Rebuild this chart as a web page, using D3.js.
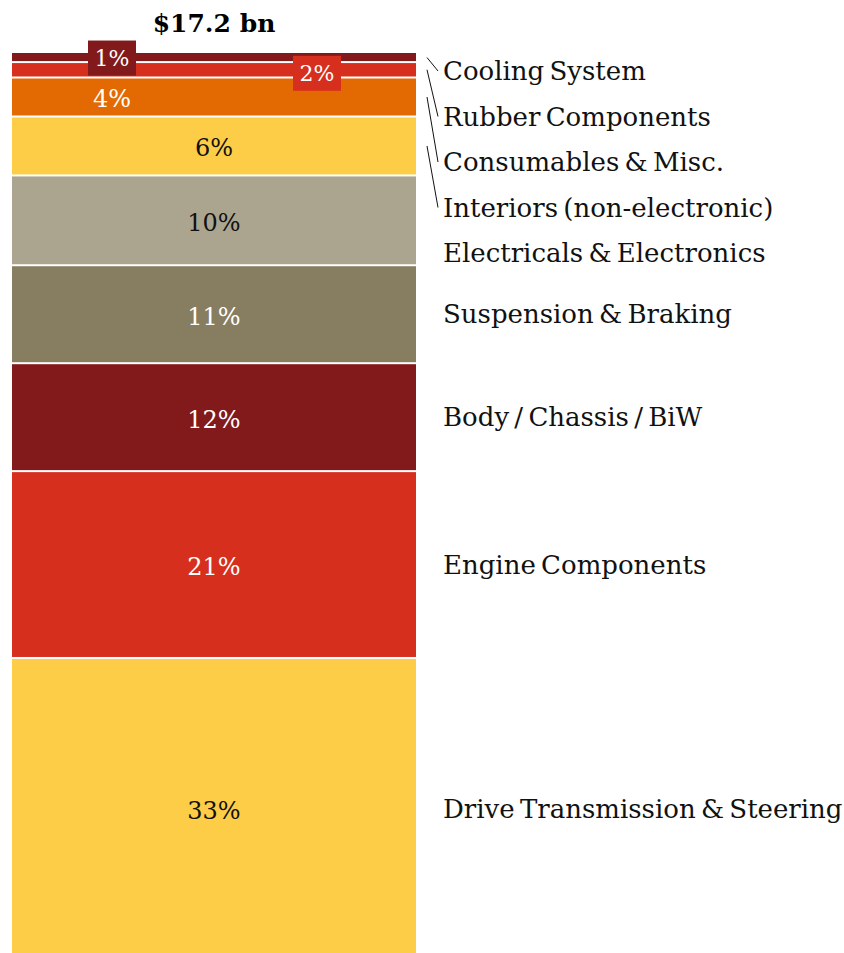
<!DOCTYPE html>
<html>
<head>
<meta charset="utf-8">
<script src="https://cdn.jsdelivr.net/npm/d3@7"></script>
<style>
  body { margin: 0; background: #fff; }
  text { font-family: "DejaVu Serif", "Liberation Serif", serif; }
</style>
</head>
<body>
<script>
// segments, top to bottom
const categories = [
  'Cooling System',
  'Rubber Components',
  'Consumables & Misc.',
  'Interiors (non-electronic)',
  'Electricals & Electronics',
  'Suspension & Braking',
  'Body / Chassis / BiW',
  'Engine Components',
  'Drive Transmission & Steering'
];
const shares = [1.0, 1.7, 4.3, 6.5, 9.9, 10.8, 11.9, 20.6, 33.3];
const shareLabels = ['1%', '2%', '4%', '6%', '10%', '11%', '12%', '21%', '33%'];
const colors = ['#82191a', '#d72f1d', '#e36a03', '#fecd47', '#aba590', '#877d60', '#82191a', '#d72f1d', '#fecd47'];
const labelColors = ['#fff', '#fff', '#fff', '#111', '#111', '#fff', '#fff', '#fff', '#111'];
const totalLabel = '$17.2 bn';

(function init() {
  const width = 844;
  const height = 953;

  const svg = d3.select('body')
    .append('svg')
    .attr('width', width)
    .attr('height', height);

  const x = d3.scaleBand().domain(['total']).range([12, 416]);
  const y = d3.scaleLinear().domain([0, 100]).range([53, 960]);

  const ends = d3.cumsum(shares);
  const segs = shares.map((v, i) => ({
    i,
    name: categories[i],
    start: ends[i] - v,
    end: ends[i],
    value: v
  }));

  // title
  svg.append('text')
    .attr('x', x('total') + x.bandwidth() / 2)
    .attr('y', 32)
    .attr('text-anchor', 'middle')
    .style('font-size', '25px')
    .style('font-weight', 'bold')
    .text(totalLabel);

  // bar segments
  svg.append('g')
    .selectAll('rect')
    .data(segs)
    .enter()
    .append('rect')
    .attr('x', x('total'))
    .attr('width', x.bandwidth())
    .attr('y', d => y(d.start) + (d.i > 0 ? 1 : 0))
    .attr('height', d => y(d.end) - y(d.start) - (d.i > 0 ? 2 : 1))
    .style('fill', d => colors[d.i]);

  // percent labels - small ones get a boxed tag off to the side
  const smallX = [112, 317, 112];
  const pct = svg.append('g');
  segs.forEach(d => {
    const mid = (y(d.start) + y(d.end)) / 2;
    const cx = d.value < 5 ? smallX[d.i] : x('total') + x.bandwidth() / 2;
    const cy = d.value < 3 ? mid + (d.i === 0 ? 1 : 4) : mid + 2;
    if (d.value < 3) {
      pct.append('rect')
        .attr('x', cx - 24)
        .attr('y', cy - 18)
        .attr('width', 48)
        .attr('height', 35)
        .style('fill', colors[d.i]);
    }
    pct.append('text')
      .attr('x', cx)
      .attr('y', cy)
      .attr('dy', '0.35em')
      .attr('text-anchor', 'middle')
      .style('font-size', d.value < 3 ? '22px' : '24px')
      .style('fill', labelColors[d.i])
      .text(shareLabels[d.i]);
  });

  // category labels on the right, pushed apart where needed
  let prev = -Infinity;
  segs.forEach(d => {
    const mid = (y(d.start) + y(d.end)) / 2;
    d.mid = mid;
    d.ly = Math.max(mid, prev + 45.5, 71);
    prev = d.ly;
  });

  const lab = svg.append('g');
  lab.selectAll('text')
    .data(segs)
    .enter()
    .append('text')
    .attr('x', 443)
    .attr('y', d => d.ly)
    .attr('dy', '0.35em')
    .style('font-size', '26px')
    .style('word-spacing', '-3px')
    .style('fill', '#111')
    .text(d => d.name);

  lab.selectAll('line')
    .data(segs.filter(d => d.value < 8))
    .enter()
    .append('line')
    .attr('x1', 427)
    .attr('y1', d => d.mid)
    .attr('x2', 438)
    .attr('y2', d => d.ly)
    .style('stroke', '#111')
    .style('stroke-width', 1);
}());
</script>
</body>
</html>
